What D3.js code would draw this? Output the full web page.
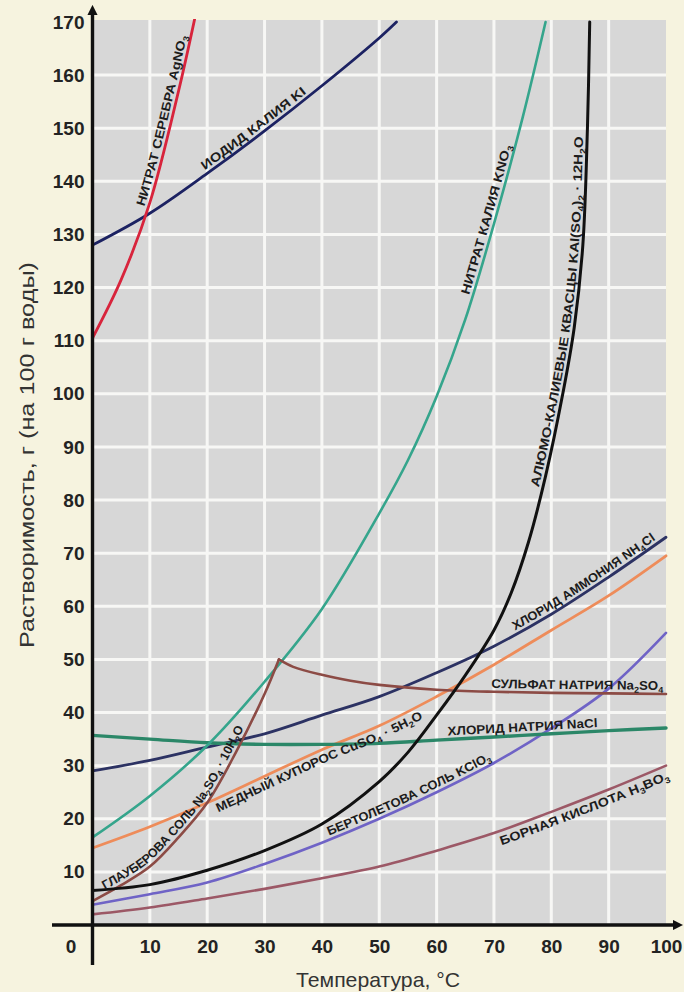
<!DOCTYPE html>
<html>
<head>
<meta charset="utf-8">
<script src="https://cdn.jsdelivr.net/npm/d3@7"></script>
<style>
  html, body { margin: 0; padding: 0; background: #f6f3df; }
  svg { display: block; }
</style>
</head>
<body>
<svg id="chart" width="684" height="992"></svg>
<script>
// Solubility, g per 100 g of water, against temperature in °C.
const tempGrid = [0, 10, 20, 30, 40, 50, 60, 70, 80, 90, 100];

const agno3Temps  = [0, 5, 10, 15, 17.8];
const agno3Values = [110.5, 121.5, 136, 157, 170.5];

const kiTemps  = [0, 10, 20, 30, 40, 50, 53];
const kiValues = [128, 134, 141.5, 149.5, 158, 167, 170];

const kno3Temps  = [0, 10, 20, 30, 40, 50, 55, 60, 65, 70, 75, 79];
const kno3Values = [16.5, 24.3, 33.8, 45.8, 59.5, 77.5, 87.5, 99.5, 114, 132, 152, 170];

const alumTemps  = [0, 10, 20, 30, 40, 50, 55, 60, 65, 70, 73, 76, 79, 82, 84, 85.5, 86.3, 86.7];
const alumValues = [6.5, 7.6, 10.3, 14, 19, 27, 32.5, 39.5, 47, 55.5, 62.5, 72, 84.5, 100, 112.5, 128, 150, 170];

const nh4clValues = [29, 31, 33.5, 36, 39.5, 43, 47.5, 52.5, 58.5, 65.5, 73];
const cuso4Values = [14.5, 18.5, 23, 28, 33, 37.5, 43, 49, 55.5, 62, 69.5];
const naclValues  = [35.7, 35, 34.3, 34, 34, 34.2, 34.8, 35.4, 36, 36.6, 37.1];
const kclo3Values = [3.8, 5.8, 8, 11.5, 15.5, 20, 25, 30.5, 37, 44.5, 55];
const h3bo3Values = [2, 3.3, 5, 6.8, 8.8, 11, 14, 17.3, 21.3, 25.5, 30];

const glauberTemps  = [0, 5, 10, 15, 20, 25, 30, 32.5];
const glauberValues = [4.5, 7.5, 11, 16.5, 23, 32.5, 43.5, 50];

const na2so4Temps  = [32.5, 35, 40, 45, 50, 60, 70, 80, 90, 100];
const na2so4Values = [50, 48.6, 47.1, 46, 45.2, 44.3, 43.9, 43.7, 43.6, 43.5];

const xTicks = d3.range(0, 101, 10);
const yTicks = d3.range(10, 171, 10);

// Series table: which temperatures/values go with which colour.
const series = [
  { id: 'h3bo3',   temps: tempGrid,     values: h3bo3Values,   color: '#9c5866', width: 2.6 },
  { id: 'kclo3',   temps: tempGrid,     values: kclo3Values,   color: '#6f63c6', width: 2.6 },
  { id: 'cuso4',   temps: tempGrid,     values: cuso4Values,   color: '#ee8c5a', width: 2.8 },
  { id: 'nh4cl',   temps: tempGrid,     values: nh4clValues,   color: '#2c3263', width: 2.8 },
  { id: 'nacl',    temps: tempGrid,     values: naclValues,    color: '#2b8768', width: 3.4 },
  { id: 'kno3',    temps: kno3Temps,    values: kno3Values,    color: '#35a58c', width: 2.6 },
  { id: 'glauber', temps: glauberTemps, values: glauberValues, color: '#8c4b45', width: 2.6 },
  { id: 'na2so4',  temps: na2so4Temps,  values: na2so4Values,  color: '#8c4b45', width: 2.6 },
  { id: 'alum',    temps: alumTemps,    values: alumValues,    color: '#111111', width: 3 },
  { id: 'ki',      temps: kiTemps,      values: kiValues,      color: '#1c2262', width: 2.8 },
  { id: 'agno3',   temps: agno3Temps,   values: agno3Values,   color: '#d8243c', width: 2.8 }
];

// Curve captions; parts are [text, isSubscript]
const captions = [
  { id: 'agno3', t: 9.7, len: 176, dy: -4,
    parts: [['НИТРАТ СЕРЕБРА '], ['AgNO'], ['3', true]] },
  { id: 'ki', t: 20, len: 128, dy: -4,
    parts: [['ИОДИД КАЛИЯ '], ['KI']] },
  { id: 'kno3', t: 66.3, len: 155, dy: -4,
    parts: [['НИТРАТ КАЛИЯ '], ['KNO'], ['3', true]] },
  { id: 'alum', t: 78.5, len: 355, dy: -4,
    parts: [['АЛЮМО-КАЛИЕВЫЕ КВАСЦЫ  '], ['KAl(SO'], ['4', true], [')'], ['2', true], [' · 12H'], ['2', true], ['O']] },
  { id: 'nh4cl', t: 74, len: 168, dy: -4,
    parts: [['ХЛОРИД АММОНИЯ '], ['NH'], ['4', true], ['Cl']] },
  { id: 'na2so4', t: 69.5, len: 172, dy: -4,
    parts: [['СУЛЬФАТ НАТРИЯ '], ['Na'], ['2', true], ['SO'], ['4', true]] },
  { id: 'nacl', t: 62, len: 150, dy: -4,
    parts: [['ХЛОРИД НАТРИЯ '], ['NaCl']] },
  { id: 'kclo3', t: 41.5, len: 180, dy: -4,
    parts: [['БЕРТОЛЕТОВА СОЛЬ '], ['KClO'], ['3', true]] },
  { id: 'h3bo3', t: 70.5, len: 180, dy: 14,
    parts: [['БОРНАЯ КИСЛОТА '], ['H'], ['3', true], ['BO'], ['3', true]] },
  { id: 'cuso4', t: 21, len: 225, dy: 13,
    parts: [['МЕДНЫЙ КУПОРОС  '], ['CuSO'], ['4', true], [' · 5H'], ['2', true], ['O']] },
  { id: 'glauber', t: 2.5, len: 220, dy: -4,
    parts: [['ГЛАУБЕРОВА СОЛЬ '], ['Na'], ['2', true], ['SO'], ['4', true], [' · 10H'], ['2', true], ['O']] }
];

const W = 684, H = 992;
const x = d3.scaleLinear().domain([0, 100]).range([92.5, 666]);
const y = d3.scaleLinear().domain([0, 170]).range([925, 22]);

const svg = d3.select('#chart');
const sansFont = '"Liberation Sans", Arial, Helvetica, sans-serif';

svg.append('rect').attr('width', W).attr('height', H).attr('fill', '#f6f3df');

const defs = svg.append('defs');
defs.append('clipPath').attr('id', 'plot-clip')
  .append('rect')
  .attr('x', x(0)).attr('y', y(170) - 3)
  .attr('width', x(100) - x(0) + 2).attr('height', y(0) - y(170) + 3);
defs.append('marker')
  .attr('id', 'arrow')
  .attr('viewBox', '0 0 10 10')
  .attr('refX', 3).attr('refY', 5)
  .attr('markerWidth', 3.2).attr('markerHeight', 3)
  .attr('orient', 'auto')
  .append('path').attr('d', 'M0,0L10,5L0,10z').attr('fill', '#111');

// Plot panel
svg.append('rect')
  .attr('x', x(0)).attr('y', y(170) - 2)
  .attr('width', x(100) - x(0)).attr('height', y(0) - y(170) + 2)
  .attr('fill', '#d7d7d7');

// Grid
const grid = svg.append('g').attr('stroke', '#f7f7f5').attr('stroke-width', 3);
grid.selectAll('line.v').data(xTicks.slice(1, -1)).join('line').attr('class', 'v')
  .attr('x1', d => x(d)).attr('x2', d => x(d))
  .attr('y1', y(170) - 2).attr('y2', y(0));
grid.selectAll('line.h').data(yTicks.slice(0, -1)).join('line').attr('class', 'h')
  .attr('x1', x(0)).attr('x2', x(100))
  .attr('y1', d => y(d)).attr('y2', d => y(d));

// Curves
const line = d3.line()
  .x(d => x(d[0]))
  .y(d => y(d[1]))
  .curve(d3.curveCatmullRom.alpha(0.5));

const curves = svg.append('g').attr('clip-path', 'url(#plot-clip)');
series.forEach(s => {
  curves.append('path')
    .attr('id', s.id)
    .attr('d', line(d3.zip(s.temps, s.values)))
    .attr('fill', 'none')
    .attr('stroke', s.color)
    .attr('stroke-width', s.width)
    .attr('stroke-linecap', 'round')
    .attr('stroke-linejoin', 'round');
});

// Distance along a curve to the point at temperature t
function offsetAt(node, t) {
  const target = x(t);
  let lo = 0, hi = node.getTotalLength();
  for (let i = 0; i < 40; i++) {
    const mid = (lo + hi) / 2;
    if (node.getPointAtLength(mid).x < target) lo = mid; else hi = mid;
  }
  return lo;
}

const captionLayer = svg.append('g')
  .attr('font-family', sansFont)
  .attr('font-size', 12.5)
  .attr('font-weight', 'bold')
  .attr('fill', '#1c1c1c');

captions.forEach(c => {
  const node = document.getElementById(c.id);
  const tp = captionLayer.append('text')
    .append('textPath')
    .attr('href', '#' + c.id)
    .attr('startOffset', offsetAt(node, c.t))
    .attr('textLength', c.len)
    .attr('lengthAdjust', 'spacingAndGlyphs');
  const wrap = tp.append('tspan').attr('dy', c.dy);
  let inSub = false;
  c.parts.forEach(([txt, isSub]) => {
    const ts = wrap.append('tspan').text(txt);
    if (isSub) {
      ts.attr('font-size', 8.5);
      if (!inSub) ts.attr('dy', 3);
    } else if (inSub) {
      ts.attr('dy', -3);
    }
    inSub = !!isSub;
  });
});

// Axes lines with arrows
svg.append('line')
  .attr('x1', x(0)).attr('x2', x(0))
  .attr('y1', 965).attr('y2', 12)
  .attr('stroke', '#111').attr('stroke-width', 3.4)
  .attr('marker-end', 'url(#arrow)');
svg.append('line')
  .attr('x1', 52).attr('x2', 676)
  .attr('y1', y(0)).attr('y2', y(0))
  .attr('stroke', '#111').attr('stroke-width', 3.4)
  .attr('marker-end', 'url(#arrow)');

// Tick labels
const yAxis = svg.append('g')
  .attr('transform', `translate(${x(0)},0)`)
  .call(d3.axisLeft(y).tickValues(yTicks).tickSize(0).tickPadding(8));
const xAxis = svg.append('g')
  .attr('transform', `translate(0,${y(0)})`)
  .call(d3.axisBottom(x).tickValues(xTicks).tickSize(0).tickPadding(15));

[yAxis, xAxis].forEach(a => {
  a.select('.domain').remove();
  a.selectAll('text')
    .attr('font-family', sansFont)
    .attr('font-size', 19)
    .attr('font-weight', 'bold')
    .attr('fill', '#232323');
});
xAxis.selectAll('.tick').filter(d => d === 0).select('text').attr('dx', -22);

// Axis titles
svg.append('text')
  .attr('transform', 'translate(34,455) rotate(-90)')
  .attr('text-anchor', 'middle')
  .attr('font-family', sansFont)
  .attr('font-size', 21)
  .attr('fill', '#333')
  .attr('textLength', 386)
  .attr('lengthAdjust', 'spacingAndGlyphs')
  .text('Растворимость, г (на 100 г воды)');

svg.append('text')
  .attr('x', 378).attr('y', 987)
  .attr('text-anchor', 'middle')
  .attr('font-family', sansFont)
  .attr('font-size', 21)
  .attr('fill', '#333')
  .attr('textLength', 164)
  .attr('lengthAdjust', 'spacingAndGlyphs')
  .text('Температура, °C');
</script>
</body>
</html>
